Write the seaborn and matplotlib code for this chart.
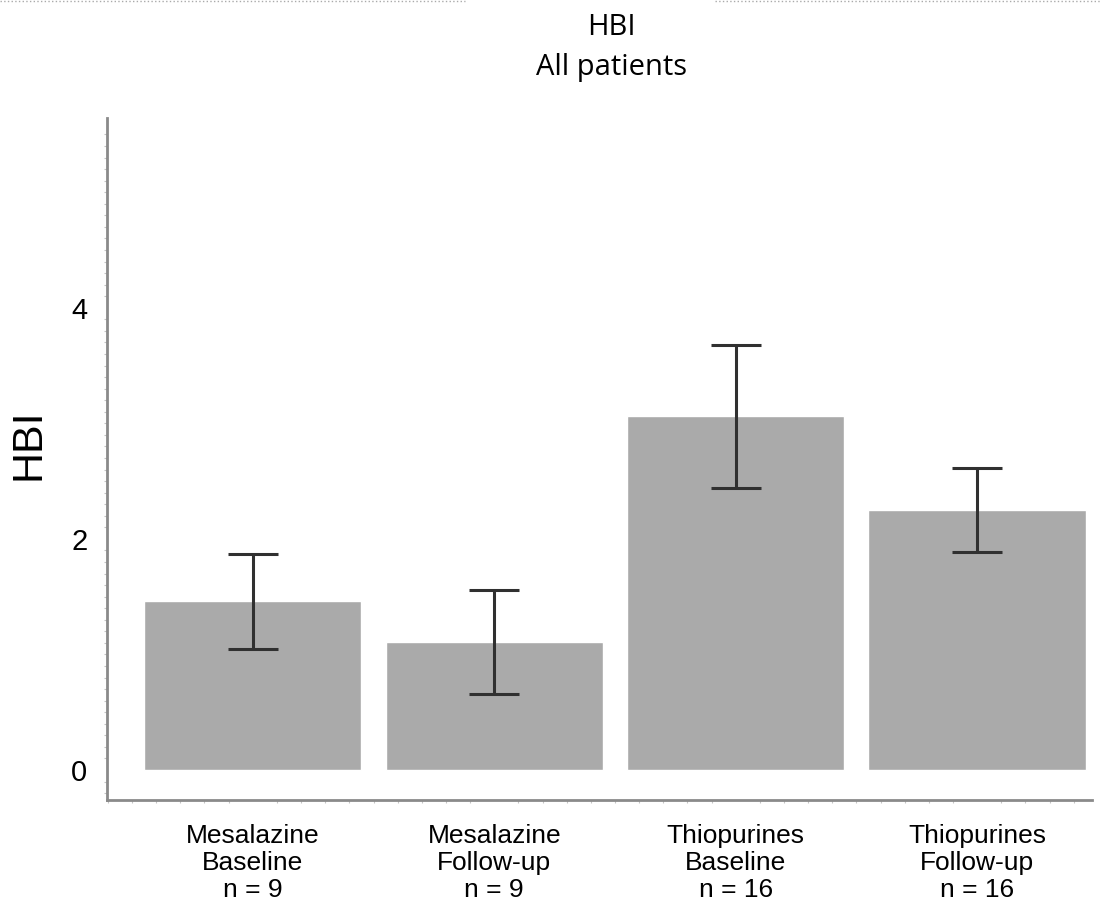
import numpy as np
import pandas as pd
import seaborn as sns
import matplotlib
matplotlib.use("Agg")
import matplotlib.pyplot as plt
from matplotlib.lines import Line2D

# data
groups = ["Mesalazine\nBaseline\nn = 9", "Mesalazine\nFollow-up\nn = 9",
          "Thiopurines\nBaseline\nn = 16", "Thiopurines\nFollow-up\nn = 16"]
hbi_mean = [1.46, 1.11, 3.06, 2.25]
hbi_err = [0.41, 0.45, 0.62, 0.365]
y_ticks = [0, 2, 4]

sns.set_style("white")
plt.rcParams['font.family'] = ['Liberation Sans', 'DejaVu Sans']
plt.rcParams['text.color'] = "black"
plt.rcParams['axes.labelcolor'] = "black"
plt.rcParams['xtick.labelcolor'] = "black"
plt.rcParams['ytick.labelcolor'] = "black"

df = pd.DataFrame({"group": groups, "HBI": hbi_mean, "err": hbi_err})

fig = plt.figure(figsize=(11, 9.05), dpi=100)
ax = fig.add_axes([0.097, 0.116, 0.896, 0.754])

sns.barplot(data=df, x="group", y="HBI", color="#aaaaaa", saturation=1,
            width=0.9, errorbar=None, ax=ax)
ax.errorbar(x=np.arange(len(groups)), y=df["HBI"], yerr=df["err"], fmt="none",
            ecolor="#303030", elinewidth=2.2, capsize=18, capthick=2.2, zorder=5)

ax.set_xlim(-0.605, 3.477)
ax.set_ylim(-0.26, 5.645)
ax.set_yticks(y_ticks)
ax.set_yticks(np.arange(-0.2, 5.6, 0.1), minor=True)
ax.set_xticks(np.arange(-0.6, 3.48, 0.1), minor=True)
ax.tick_params(axis="y", which="major", length=5, width=1.2, color="#999999",
               labelsize=21, pad=9, labelcolor="black")
ax.tick_params(axis="y", which="minor", length=2.5, width=0.8, color="#c4c4c4", left=True)
ax.tick_params(axis="x", which="minor", length=2.5, width=0.8, color="#c4c4c4", bottom=True)
ax.tick_params(axis="x", which="major", length=3, width=1, color="#bbbbbb",
               labelsize=19, pad=14, labelcolor="black")
for lab in ax.get_xticklabels():
    lab.set_linespacing(1.18)

ax.set_xlabel("")
ax.set_ylabel("HBI", fontsize=31, color="black")
ax.yaxis.set_label_coords(-0.079, 0.522)
ax.yaxis.label.set_verticalalignment("center")

for side in ["top", "right"]:
    ax.spines[side].set_visible(False)
for side in ["left", "bottom"]:
    ax.spines[side].set_color("#8a8a8a")
    ax.spines[side].set_linewidth(2)

fig.text(0.556, 0.961, "HBI", ha="center", va="baseline", fontsize=21,
         color="black", family=["Open Sans", "DejaVu Sans"])
fig.text(0.556, 0.917, "All patients", ha="center", va="baseline", fontsize=21,
         color="black", family=["Open Sans", "DejaVu Sans"])

# faint dotted border remnants at the top edge
fig.add_artist(Line2D([0, 0.423], [0.999, 0.999], color="#aaaaaa", lw=1, ls=":"))
fig.add_artist(Line2D([0.65, 1], [0.999, 0.999], color="#aaaaaa", lw=1, ls=":"))

fig.savefig("out.png", dpi=100)
